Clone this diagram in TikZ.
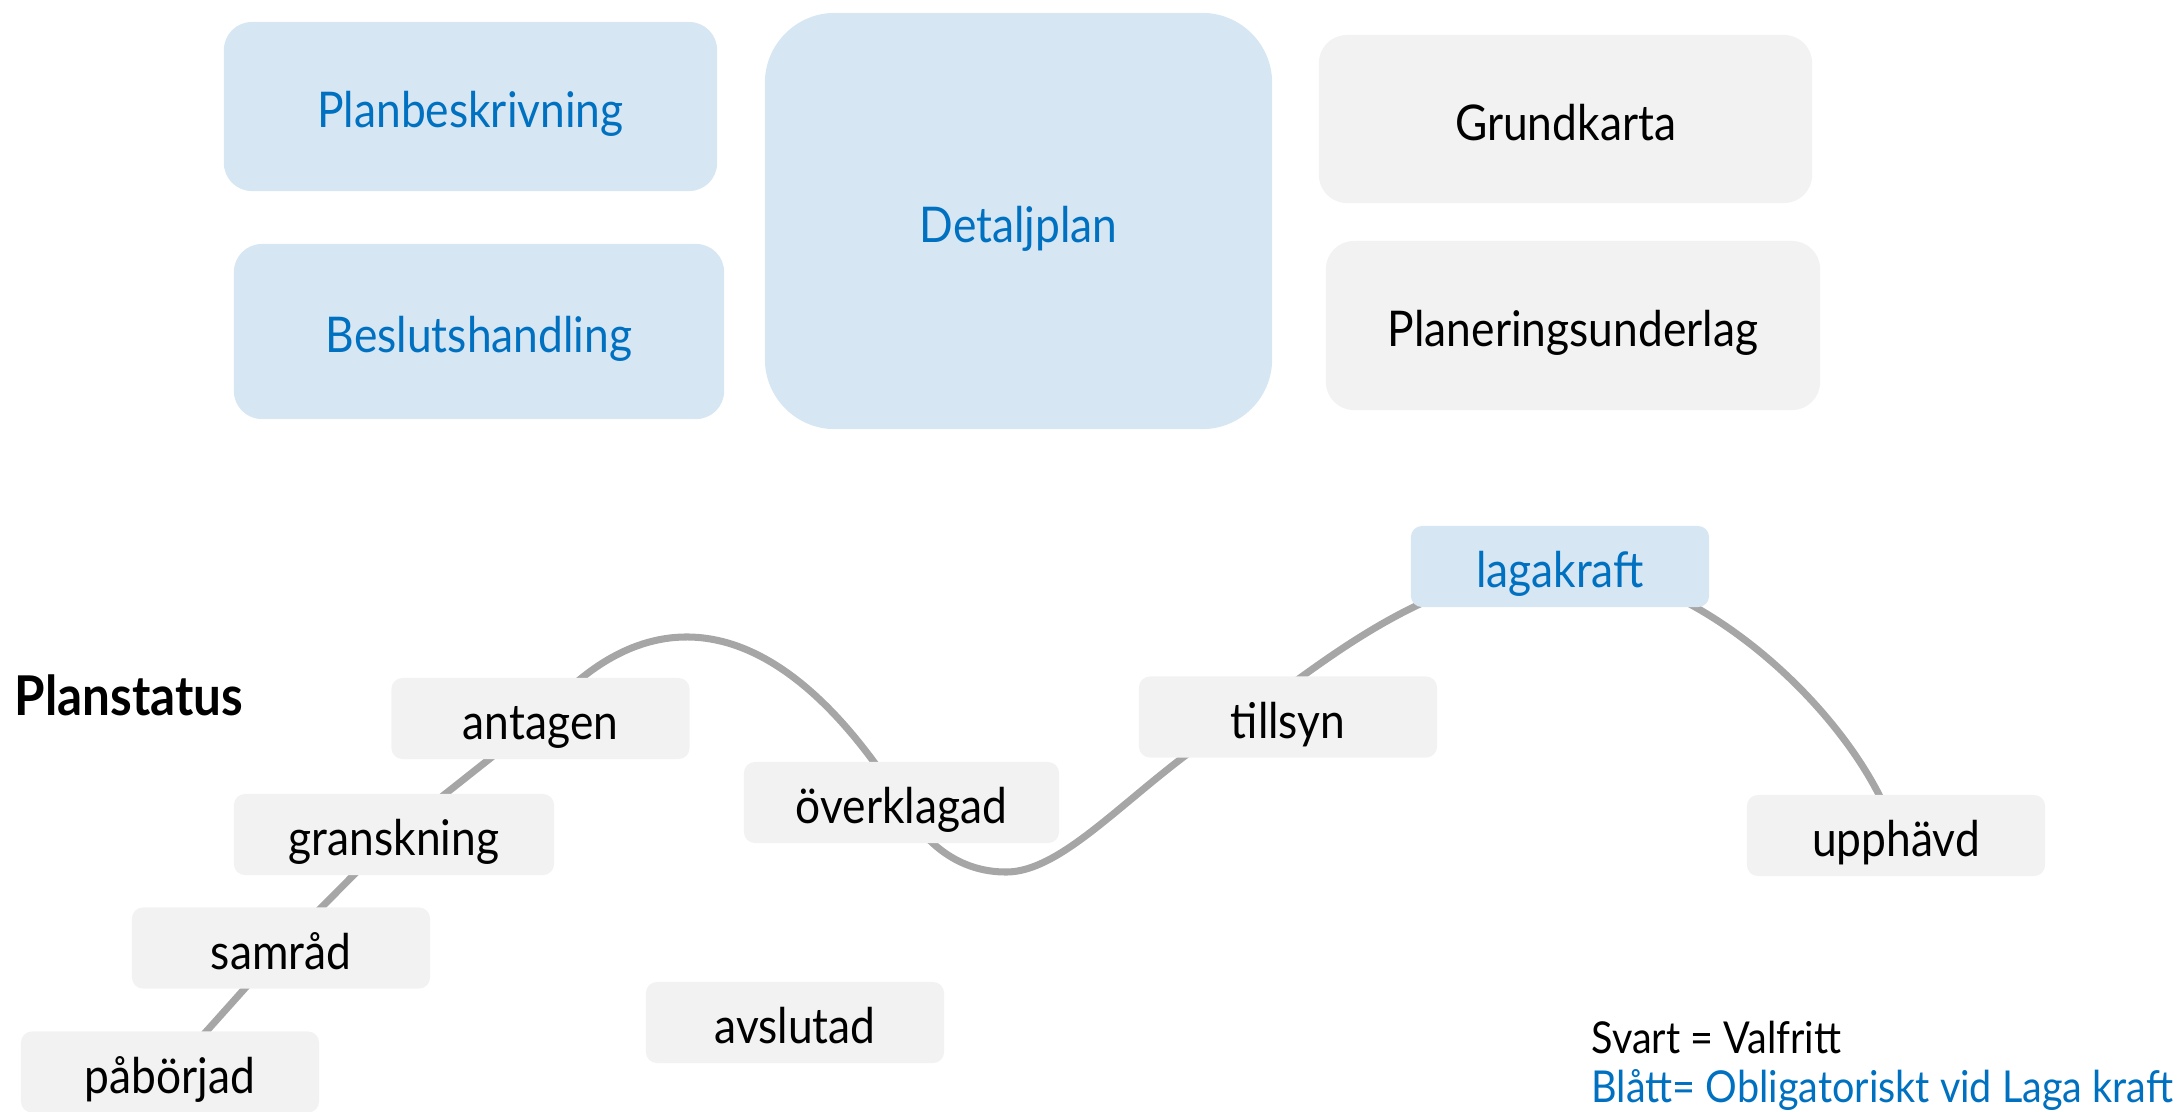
\documentclass[tikz,border=0pt]{standalone}
\usepackage{fontspec}
\setmainfont{Lato}[FakeStretch=0.9]
\usetikzlibrary{backgrounds}
\definecolor{boxblue}{HTML}{D6E6F3}
\definecolor{boxgray}{HTML}{F2F2F2}
\definecolor{txtblue}{HTML}{0070C0}
\definecolor{curvegray}{HTML}{A6A6A6}
\tikzset{
  lbl/.style={font=\fontsize{14}{17}\selectfont, inner sep=0pt, text height=12pt, text depth=0pt},
  bigbox/.style={lbl, rounded corners=0.28cm, minimum width=4.93cm, minimum height=1.69cm},
  bluebox/.style={fill=boxblue, text=txtblue},
  graybox/.style={fill=boxgray, text=black},
  statusbox/.style={lbl, rounded corners=0.11cm, minimum width=2.98cm, minimum height=0.81cm},
  curve/.style={draw=curvegray, line width=2pt, line join=round},
  legendtext/.style={font=\fontsize{12.5}{14}\selectfont, inner sep=0pt, anchor=base west}
}
\begin{document}
\begin{tikzpicture}[x=0.01cm, y=-0.01cm]
\useasboundingbox (0,0) rectangle (2184,1111);
% top section
\node[bigbox, bluebox] (plan) at (470.5,106.5) {Planbeskrivning};
\node[bigbox, bluebox, minimum width=4.90cm, minimum height=1.75cm] (besl) at (479,331.5) {Beslutshandling};
\node[bigbox, bluebox, minimum width=5.07cm, minimum height=4.16cm, rounded corners=0.7cm] (detalj) at (1018.5,221) {Detaljplan};
\node[bigbox, graybox, minimum height=1.68cm] (grund) at (1565.5,119) {Grundkarta};
\node[bigbox, graybox, minimum width=4.94cm] (planer) at (1573,325.5) {Planeringsunderlag};
% plan status
\node[font=\fontsize{15.6}{18}\selectfont\bfseries, inner sep=0pt, anchor=west] (title) at (14,695) {Planstatus};
\node[statusbox, graybox] (ant) at (540.5,718.5) {antagen};
\node[statusbox, graybox, minimum width=3.20cm] (gra) at (394,834.5) {granskning};
\node[statusbox, graybox] (sam) at (281,948) {samråd};
\node[statusbox, graybox] (pab) at (170,1072) {påbörjad};
\node[statusbox, graybox] (avs) at (795,1022.5) {avslutad};
\node[statusbox, graybox, minimum width=3.15cm] (ovk) at (901.5,802.5) {överklagad};
\node[statusbox, graybox] (til) at (1288,717) {tillsyn};
\node[statusbox, bluebox] (lag) at (1560,566.5) {lagakraft};
\node[statusbox, graybox] (upp) at (1896,835.5) {upphävd};
% waypoints of the curve
\coordinate (m2) at (1006,872);
\coordinate (w3) at (1243,717);
\begin{pgfonlayer}{background}
\draw[curve] (pab.center) -- (sam.center) -- (gra.center) -- (ant.center)
  .. controls (650,590) and (780,610) .. (ovk.center)
  .. controls (925,845) and (960,872) .. (m2)
  .. controls (1070,872) and (1143,774) .. (w3)
  .. controls (1300,685) and (1410,575) .. (lag.center)
  .. controls (1700,566.5) and (1860,720) .. (upp.center);
\end{pgfonlayer}
% legend
\node[legendtext] (leg1) at (1591,1053) {Svart = Valfritt};
\node[legendtext, text=txtblue] (leg2) at (1591,1102) {Blått= Obligatoriskt vid Laga kraft};
\end{tikzpicture}
\end{document}
